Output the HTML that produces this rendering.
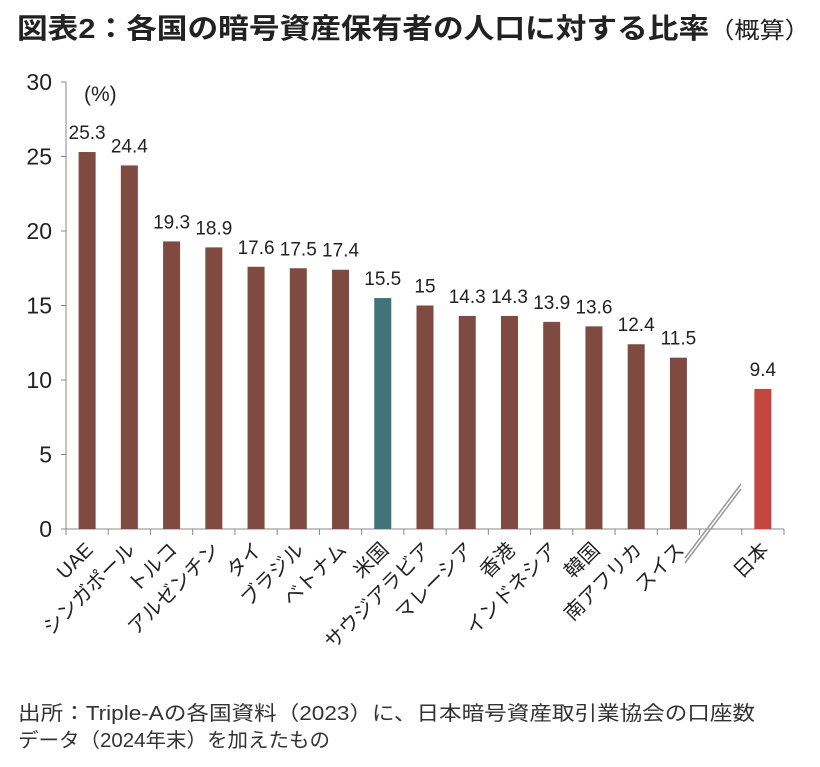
<!DOCTYPE html>
<html><head><meta charset="utf-8"><style>
body{margin:0;background:#fff;}
svg text{font-family:"Liberation Sans","Noto Sans CJK JP",sans-serif;}
</style></head><body>
<svg width="820" height="762" viewBox="0 0 820 762">
<text x="17" y="38" font-size="28" font-weight="bold" fill="#222" textLength="793" lengthAdjust="spacingAndGlyphs">図表2：各国の暗号資産保有者の人口に対する比率<tspan font-size="23" font-weight="normal">（概算）</tspan></text>
<g id="plot"></g>
<text x="18" y="720" font-size="20" fill="#333" textLength="737" lengthAdjust="spacingAndGlyphs">出所：Triple-Aの各国資料（2023）に、日本暗号資産取引業協会の口座数</text>
<text x="18" y="747" font-size="20" fill="#333" textLength="312" lengthAdjust="spacingAndGlyphs">データ（2024年末）を加えたもの</text>
</svg>
<script>
const categories=["UAE","シンガポール","トルコ","アルゼンチン","タイ","ブラジル","ベトナム","米国","サウジアラビア","マレーシア","香港","インドネシア","韓国","南アフリカ","スイス","","日本"];
const values=[25.3,24.4,19.3,18.9,17.6,17.5,17.4,15.5,15,14.3,14.3,13.9,13.6,12.4,11.5,null,9.4];
const valueLabels=["25.3","24.4","19.3","18.9","17.6","17.5","17.4","15.5","15","14.3","14.3","13.9","13.6","12.4","11.5","","9.4"];
const yTicks=[0,5,10,15,20,25,30];
const NS="http://www.w3.org/2000/svg";
const g=document.getElementById('plot');
const x0=66,x1=784,y0=529,y1=82,ymax=30;
const slot=(x1-x0)/categories.length;
const y=v=>y0-(v/ymax)*(y0-y1);
const xc=i=>x0+slot*(i+0.5);
function mk(t,a){const e=document.createElementNS(NS,t);for(const k in a)e.setAttribute(k,a[k]);g.appendChild(e);return e;}
let e;
e=mk('line',{x1:x0,y1:y0,x2:x0,y2:y1,stroke:'#888','stroke-width':1});


yTicks.forEach(t=>{
 let l=mk('line',{x1:x0-5,x2:x0,y1:y(t),y2:y(t),stroke:'#888'});
 
 
 let tx=mk('text',{x:x0-14,y:y(t)+8,'text-anchor':'end','font-size':23,fill:'#222'});
 tx.textContent=t;
 
 
});
e=mk('text',{x:84,y:101,'font-size':21,fill:'#222'});e.textContent='(%)';


e=mk('line',{x1:x0,y1:y0,x2:x1,y2:y0,stroke:'#888'});


for(let i=0;i<=categories.length;i++){
 let l=mk('line',{x1:x0+slot*i,x2:x0+slot*i,y1:y0,y2:y0+6,stroke:'#888'});
 
 
}
categories.forEach((c,i)=>{
 const v=values[i];
 if(v!=null){
  const col=c==='米国'?'#41737a':(c==='日本'?'#c4473f':'#7f4a40');
  let r=mk('rect',{x:xc(i)-8.5,y:y(v),width:17,height:y0-y(v),fill:col});
  
  
  let t=mk('text',{x:xc(i),y:y(v)-13,'text-anchor':'middle','font-size':19,fill:'#222'});
  t.textContent=valueLabels[i];
  
  
 }
 if(c){
  const lx=xc(i)+7,ly=y0+22;
  let t=mk('text',{x:lx,y:ly,'text-anchor':'end','font-size':20,fill:'#222',transform:`rotate(-45 ${lx} ${ly})`});
  t.textContent=c;
  
  
 }
});
[0,5].forEach(d=>{
 let l=mk('line',{x1:685,y1:558+d,x2:741,y2:484+d,stroke:'#999','stroke-width':1.5});
 
 
});
</script>
</body></html>
